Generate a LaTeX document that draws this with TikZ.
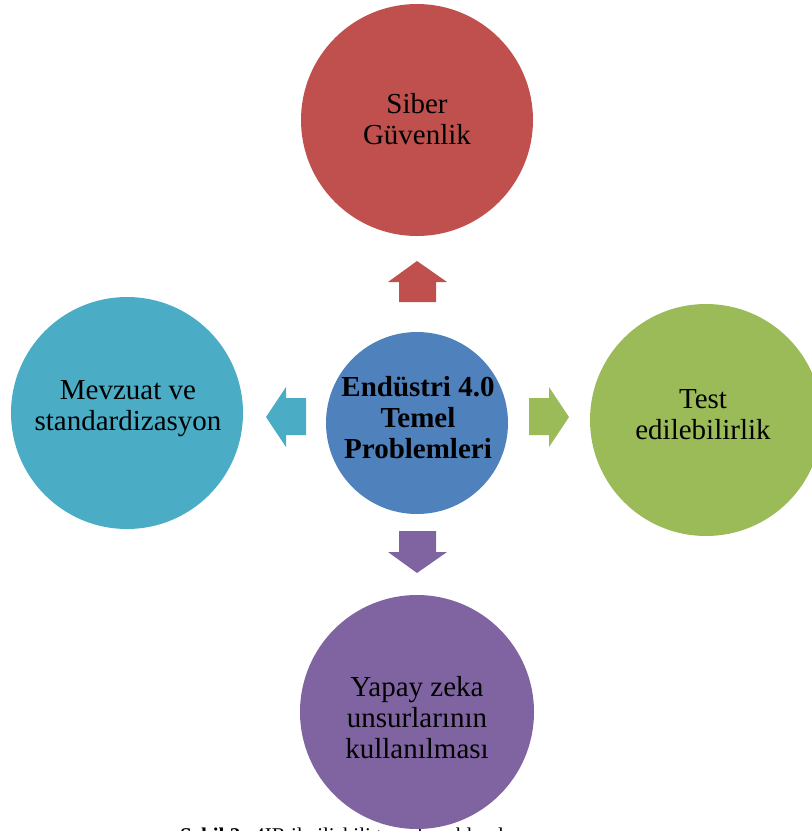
\documentclass[tikz,border=0pt]{standalone}
\usepackage{fontspec}
\setmainfont{Liberation Serif}
\definecolor{cred}{HTML}{C0504D}
\definecolor{cblue}{HTML}{4F81BD}
\definecolor{cgreen}{HTML}{9BBB59}
\definecolor{cpurple}{HTML}{8064A2}
\definecolor{cteal}{HTML}{4BACC6}
\begin{document}
\begin{tikzpicture}[x=1pt,y=-1pt,
  bubble/.style={circle,inner sep=0pt,draw=none},
  btext/.style={align=center,font=\fontsize{29}{31}\selectfont,text=black},
  arr/.style={draw=none}]
\path[use as bounding box] (0,0) rectangle (812,831);
\clip (0,0) rectangle (812,831);
% caption (mostly clipped)
\node[anchor=base west,inner sep=0pt,font=\fontsize{21}{25}\selectfont] (cap) at (180,842) {\textbf{Şekil 2:} 4IR ile ilişkili temel problemler};
% circles
\node[bubble,fill=cred,minimum size=232pt] (top) at (417,120) {};
\node[bubble,fill=cteal,minimum size=232pt] (left) at (127,413) {};
\node[bubble,fill=cgreen,minimum size=232pt] (right) at (706,420) {};
\node[bubble,fill=cpurple,minimum size=234pt] (bot) at (417,712) {};
\node[bubble,fill=cblue,minimum size=182pt] (ctr) at (417,423) {};
% texts
\node[btext] (ttop) at (417,119) {Siber\\Güvenlik};
\node[btext] (tleft) at (128,409) {Mevzuat ve\\standardizasyon};
\node[btext] (tright) at (703,415) {Test\\edilebilirlik};
\node[btext] (tbot) at (417,718) {Yapay zeka\\unsurlarının\\kullanılması};
\node[btext,font=\bfseries\fontsize{29}{31}\selectfont] (tctr) at (418,418) {Endüstri 4.0\\Temel\\Problemleri};
% arrows
\fill[cred] (399,302) -- (399,282) -- (388,282) -- (417,261) -- (447,282) -- (436,282) -- (436,302) -- cycle;
\fill[cpurple] (399,531) -- (399,552) -- (388,552) -- (417,573) -- (447,552) -- (436,552) -- (436,531) -- cycle;
\fill[cteal] (306,398) -- (286,398) -- (286,387) -- (266,417) -- (286,447) -- (286,435) -- (306,435) -- cycle;
\fill[cgreen] (529,398) -- (549,398) -- (549,387) -- (569,417) -- (549,447) -- (549,435) -- (529,435) -- cycle;
\end{tikzpicture}
\end{document}
